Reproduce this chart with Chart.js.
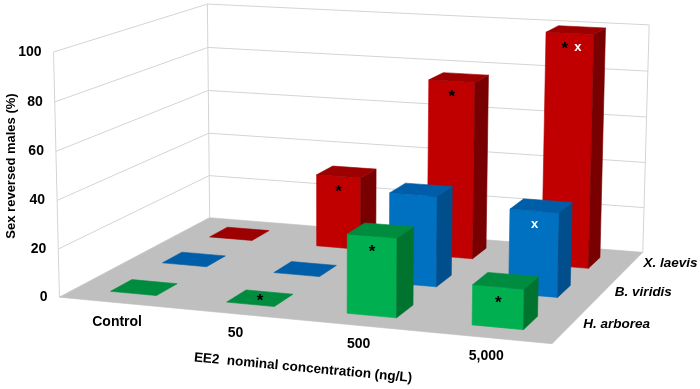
<!DOCTYPE html>
<html>
<head>
<meta charset="utf-8">
<script src="https://cdn.jsdelivr.net/npm/chart.js@4.4.1/dist/chart.umd.min.js"></script>
<style>
  body { margin: 0; background: #ffffff; }
  canvas { display: block; }
</style>
</head>
<body>
<canvas id="chart" width="700" height="389"></canvas>
<script>
// Data
const categories = ['Control', '50', '500', '5,000'];
const species = ['H. arborea', 'B. viridis', 'X. laevis'];
const hArborea = [0, 0, 32, 16];
const bViridis = [0, 0, 38, 35];
const xLaevis = [0, 32, 77, 100];
// significance marks shown on the bars
const hArboreaMarks = ['', '*', '*', '*'];
const bViridisMarks = ['', '', '', 'x'];
const xLaevisMarks = ['', '*', '*', '*x'];
const yTicks = [0, 20, 40, 60, 80, 100];

const FONT = '"Liberation Sans", Arial, sans-serif';

// colours per species: front, top, side
const palette = [
    { front: '#00b050', top: '#008c3e', side: '#00742f' },
    { front: '#0070c0', top: '#005ea8', side: '#004f8c' },
    { front: '#c00000', top: '#9c0000', side: '#780000' }
];

// pixel position of the plot cube corners (u, w, h -> x, y)
const cubeCorners = [
    [0, 0, 0, 60, 297],
    [1, 0, 0, 552, 344],
    [0, 0, 1, 53, 52],
    [0, 1, 0, 209, 218],
    [0, 1, 1, 208, 4],
    [1, 1, 0, 643, 252],
    [1, 1, 1, 649, 25]
];

// Fit a perspective camera (3x4 matrix) to the cube corners
function fitCamera(pairs) {
    const A = [], b = [];
    pairs.forEach(([u, w, h, x, y]) => {
        A.push([u, w, h, 1, 0, 0, 0, 0, -x * u, -x * w, -x * h]); b.push(x);
        A.push([0, 0, 0, 0, u, w, h, 1, -y * u, -y * w, -y * h]); b.push(y);
    });
    const n = 11;
    const M = [];
    for (let i = 0; i < n; i++) {
        M.push(new Array(n + 1).fill(0));
        for (let j = 0; j < n; j++) {
            for (let k = 0; k < A.length; k++) M[i][j] += A[k][i] * A[k][j];
        }
        for (let k = 0; k < A.length; k++) M[i][n] += A[k][i] * b[k];
    }
    for (let c = 0; c < n; c++) {
        let piv = c;
        for (let r = c + 1; r < n; r++) if (Math.abs(M[r][c]) > Math.abs(M[piv][c])) piv = r;
        [M[c], M[piv]] = [M[piv], M[c]];
        for (let r = 0; r < n; r++) {
            if (r === c) continue;
            const f = M[r][c] / M[c][c];
            for (let k = c; k <= n; k++) M[r][k] -= f * M[c][k];
        }
    }
    return M.map((row, i) => row[n] / row[i]);
}

const cam = fitCamera(cubeCorners);

function project(u, w, h) {
    const d = cam[8] * u + cam[9] * w + cam[10] * h + 1;
    return [
        (cam[0] * u + cam[1] * w + cam[2] * h + cam[3]) / d,
        (cam[4] * u + cam[5] * w + cam[6] * h + cam[7]) / d
    ];
}

// position of a value on a scale as a fraction 0..1
function frac(scale, v) {
    const p0 = scale.getPixelForDecimal(0);
    const p1 = scale.getPixelForDecimal(1);
    return (scale.getPixelForValue(v) - p0) / (p1 - p0);
}

const box3d = {
    id: 'box3d',
    beforeDatasetsDraw(chart) {
        const ctx = chart.ctx;
        const xs = chart.scales.x, ys = chart.scales.y, zs = chart.scales.z;

        function poly(pts, fill) {
            ctx.beginPath();
            pts.forEach((p, k) => k ? ctx.lineTo(p[0], p[1]) : ctx.moveTo(p[0], p[1]));
            ctx.closePath();
            ctx.fillStyle = fill;
            ctx.fill();
            ctx.strokeStyle = fill;
            ctx.lineWidth = 0.6;
            ctx.stroke();
        }
        function line(a, b, color) {
            ctx.beginPath();
            ctx.moveTo(a[0], a[1]);
            ctx.lineTo(b[0], b[1]);
            ctx.strokeStyle = color;
            ctx.lineWidth = 1;
            ctx.stroke();
        }
        function drawMark(m, x, y) {
            if (m === '*') {
                ctx.font = 'bold 17px ' + FONT;
                ctx.fillStyle = '#000000';
                ctx.fillText('*', x, y);
            } else {
                ctx.font = 'bold 13px ' + FONT;
                ctx.fillStyle = '#ffffff';
                ctx.fillText('x', x, y);
            }
        }

        ctx.save();

        // floor
        poly([project(0, 0, 0), project(1, 0, 0), project(1, 1, 0), project(0, 1, 0)], '#bfbfbf');

        // walls: gridlines and edges
        const grid = '#d4d4d4';
        yTicks.forEach(t => {
            const h = frac(ys, t);
            if (t > 0) {
                line(project(0, 0, h), project(0, 1, h), grid);
                line(project(0, 1, h), project(1, 1, h), grid);
            }
        });
        line(project(0, 0, 0), project(0, 0, 1), grid);
        line(project(0, 1, 0), project(0, 1, 1), grid);
        line(project(1, 1, 0), project(1, 1, 1), grid);
        line(project(0, 0, 0), project(0, 1, 0), '#c8c8c8');

        // bars, back row first
        const slotU = frac(xs, 1) - frac(xs, 0);
        const slotW = frac(zs, 1) - frac(zs, 0);
        const halfU = slotU * 0.4 / 2;
        const halfW = slotW * 0.4 / 2;

        for (let j = chart.data.datasets.length - 1; j >= 0; j--) {
            const ds = chart.data.datasets[j];
            const col = palette[j];
            const wc = frac(zs, j);
            const w0 = wc - halfW, w1 = wc + halfW;
            ds.data.forEach((v, i) => {
                const uc = frac(xs, i);
                const u0 = uc - halfU, u1 = uc + halfU;
                const h = frac(ys, v);
                if (h > 0) {
                    poly([project(u0, w0, 0), project(u1, w0, 0), project(u1, w0, h), project(u0, w0, h)], col.front);
                    poly([project(u1, w0, 0), project(u1, w1, 0), project(u1, w1, h), project(u1, w0, h)], col.side);
                }
                poly([project(u0, w0, h), project(u1, w0, h), project(u1, w1, h), project(u0, w1, h)], col.top);

                // significance marks
                const mark = ds.marks[i];
                if (!mark) return;
                let p;
                if (h > 0) {
                    p = project(uc, w0, h);
                    p = [p[0], p[1] + 14];
                } else {
                    p = project(uc, wc, 0);
                    p = [p[0], p[1] + 1];
                }
                ctx.textAlign = 'center';
                ctx.textBaseline = 'middle';
                if (mark === '*x') {
                    drawMark('*', p[0] - 5, p[1] + 2);
                    drawMark('x', p[0] + 8, p[1]);
                } else {
                    drawMark(mark, p[0], p[1] + (mark === '*' ? 2 : 0));
                }
            });
        }

        // value tick labels
        ctx.fillStyle = '#000000';
        ctx.font = 'bold 14px ' + FONT;
        ctx.textAlign = 'right';
        ctx.textBaseline = 'middle';
        yTicks.forEach(t => {
            const p = project(0, 0, frac(ys, t));
            ctx.fillText(String(t), p[0] - 12, p[1]);
        });

        // category labels
        ctx.textAlign = 'center';
        categories.forEach((c, i) => {
            const p = project(frac(xs, i), 0, 0);
            ctx.fillText(c, p[0], p[1] + 19);
        });

        // species labels
        ctx.font = 'italic bold 13.5px ' + FONT;
        ctx.textAlign = 'left';
        species.forEach((s, j) => {
            const p = project(1, frac(zs, j), 0);
            ctx.fillText(s, p[0] + 14, p[1] - 2);
        });

        // axis titles
        ctx.font = 'bold 13.5px ' + FONT;
        ctx.textAlign = 'center';
        ctx.save();
        ctx.translate(303, 368);
        ctx.rotate(5.4 * Math.PI / 180);
        ctx.fillText('EE2  nominal concentration (ng/L)', 0, 0);
        ctx.restore();

        ctx.font = 'bold 13px ' + FONT;
        ctx.save();
        ctx.translate(11, 166);
        ctx.rotate(-Math.PI / 2);
        ctx.fillText('Sex reversed males (%)', 0, 0);
        ctx.restore();

        ctx.restore();
        return false;
    }
};

new Chart(document.getElementById('chart'), {
    type: 'bar',
    data: {
        labels: categories,
        datasets: [
            { label: species[0], data: hArborea, marks: hArboreaMarks, backgroundColor: palette[0].front },
            { label: species[1], data: bViridis, marks: bViridisMarks, backgroundColor: palette[1].front },
            { label: species[2], data: xLaevis, marks: xLaevisMarks, backgroundColor: palette[2].front }
        ]
    },
    options: {
        responsive: false,
        animation: false,
        devicePixelRatio: 1,
        events: [],
        layout: { padding: 0 },
        plugins: { legend: { display: false }, tooltip: { enabled: false } },
        scales: {
            x: { type: 'category', offset: true, display: false },
            y: { min: 0, max: 100, display: false },
            z: { type: 'category', axis: 'y', labels: species, offset: true, display: false }
        }
    },
    plugins: [box3d]
});
</script>
</body>
</html>
